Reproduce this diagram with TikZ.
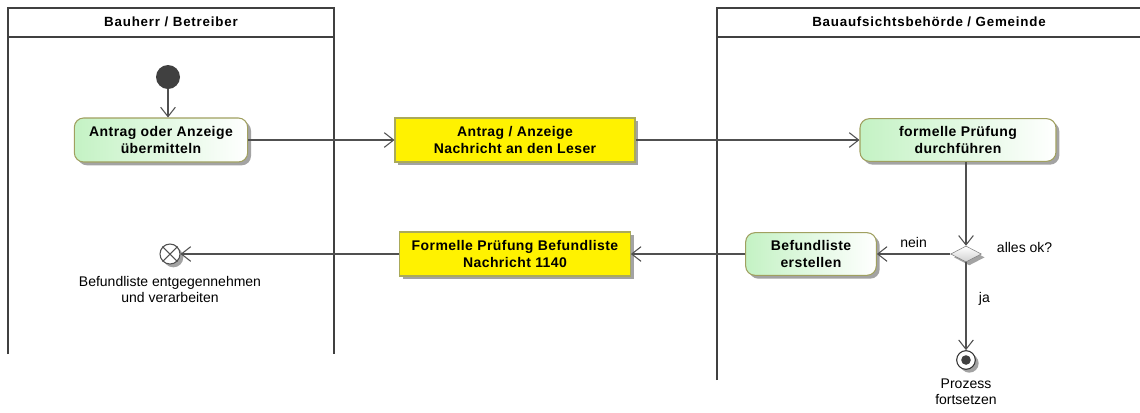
\documentclass[tikz,border=0pt]{standalone}
\usepackage{fontspec}
\setmainfont{Liberation Sans}
\newfontfamily\fettfont[LetterSpace=6]{Liberation Sans}
\newfontfamily\knotenfont[LetterSpace=3]{Liberation Sans}
\usepackage{xcolor}
\definecolor{aktgruen}{RGB}{196,242,196}
\definecolor{aktrand}{RGB}{160,160,96}
\definecolor{msgrand}{RGB}{170,170,90}
\definecolor{lanegrau}{RGB}{64,64,64}
\definecolor{flussgrau}{RGB}{80,80,80}
\usetikzlibrary{arrows.meta, positioning, shapes.geometric, shadows}

\begin{document}
\begin{tikzpicture}[
    x=0.75pt, y=-0.75pt,
    >={Straight Barb[length=7pt, width=11pt]},
    lane/.style={draw=lanegrau, line width=1.5pt},
    lanekopf/.style={font=\fettfont\bfseries\fontsize{10}{12}\selectfont},
    schatten/.style={drop shadow={shadow xshift=2.5pt, shadow yshift=-2.5pt, fill=black!45, opacity=0.8}},
    aktion/.style={draw=aktrand, line width=0.8pt, rounded corners=7pt, left color=aktgruen, right color=white,
        align=center, font=\knotenfont\bfseries\fontsize{10.5}{12.5}\selectfont, minimum height=33pt, schatten},
    nachricht/.style={draw=msgrand, line width=0.8pt, fill=yellow, align=center,
        font=\knotenfont\bfseries\fontsize{10.5}{12.5}\selectfont, minimum height=33pt, schatten},
    entscheidung/.style={diamond, draw=black!50, top color=white, bottom color=black!18, aspect=2,
        minimum width=23pt, minimum height=12pt, inner sep=0pt, schatten},
    fluss/.style={->, draw=flussgrau, line width=0.8pt},
    beschriftung/.style={font=\fontsize{10.5}{12}\selectfont, align=center}
]
\useasboundingbox (0,0) rectangle (1140,412);

% Swimlane links
\draw[lane] (8,354) -- (8,8) -- (334,8) -- (334,354);
\draw[lane] (8,37) -- (334,37);
\node[lanekopf] (lane1) at (171,22) {Bauherr / Betreiber};

% Swimlane rechts
\draw[lane] (717,380) -- (717,8) -- (1141,8);
\draw[lane] (717,37) -- (1141,37);
\node[lanekopf] (lane2) at (929,22) {Bauaufsichtsbehörde / Gemeinde};

% Knoten
\node[circle, fill=lanegrau, minimum size=18pt, inner sep=0pt] (start) at (168,77) {};
\node[aktion, minimum width=130pt] (antrag) at (161,140) {Antrag oder Anzeige\\übermitteln};
\node[nachricht, minimum width=180pt] (msg1) at (515,140) {Antrag / Anzeige\\Nachricht an den Leser};
\node[aktion, minimum width=147pt, minimum height=32pt] (pruefung) at (958,140) {formelle Prüfung\\durchführen};
\node[entscheidung] (ok) at (966,254) {};
\node[beschriftung, right=8pt of ok.east, yshift=5pt] (okfrage) {alles ok?};
\node[aktion, minimum width=98pt, minimum height=32pt] (befund) at (811,254) {Befundliste\\erstellen};
\node[nachricht, minimum width=173pt] (msg2) at (515,254) {Formelle Prüfung Befundliste\\Nachricht 1140};

% Flussende mit Kreuz
\node[circle, draw=flussgrau, line width=0.8pt, fill=white, minimum size=15pt, inner sep=0pt, schatten] (empfang) at (170,254) {};
\draw[flussgrau, line width=0.8pt] (empfang.north east) -- (empfang.south west)
    (empfang.north west) -- (empfang.south east);
\node[beschriftung, below=5pt of empfang] (empfangtext) {Befundliste entgegennehmen\\und verarbeiten};

% Endknoten
\node[circle, draw=black!80, line width=0.8pt, fill=white, minimum size=14pt, inner sep=0pt, schatten] (weiter) at (966,360) {};
\fill[lanegrau] (weiter.center) circle (3.6pt);
\node[beschriftung, below=3pt of weiter] (weitertext) {Prozess\\fortsetzen};

% Kanten
\draw[fluss] (start) -- (start |- antrag.north);
\draw[fluss] (antrag) -- (msg1);
\draw[fluss] (msg1) -- (pruefung);
\draw[fluss] (pruefung.south -| ok.north) -- (ok.north);
\draw[fluss] (ok.west) -- node[beschriftung, above=1pt] {nein} (befund);
\draw[fluss] (ok.south) -- node[beschriftung, right=6pt, pos=0.42] {ja} (weiter);
\draw[fluss] (befund) -- (msg2);
\draw[fluss] (msg2) -- (empfang);

\end{tikzpicture}
\end{document}
